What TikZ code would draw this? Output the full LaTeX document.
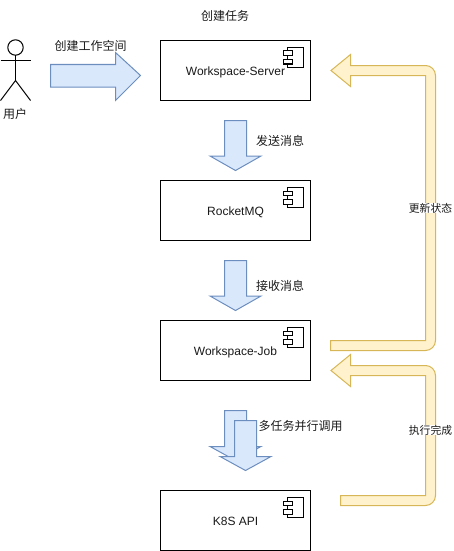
\documentclass[tikz,border=0pt]{standalone}
\usepackage{fontspec}
\setmainfont{Liberation Sans}
\newfontfamily\cjk{Noto Sans CJK SC}
\definecolor{bluefill}{HTML}{DAE8FC}
\definecolor{blueline}{HTML}{6C8EBF}
\definecolor{yelfill}{HTML}{FFF2CC}
\definecolor{yelline}{HTML}{D6B656}
\definecolor{txtc}{HTML}{1A1A1A}
\tikzset{
  txt/.style={inner sep=0pt,anchor=base,font=\fontsize{12}{14}\selectfont\color{txtc}},
  cjktxt/.style={inner sep=0pt,font=\fontsize{12}{14}\cjk\color{txtc}},
  edgetxt/.style={inner sep=0pt,fill=white,font=\fontsize{10.8}{13}\cjk\color{txtc}},
  comp/.style={draw=black,line width=1pt,fill=white,minimum width=150pt,minimum height=60pt,inner sep=0pt,outer sep=0pt,anchor=north west},
  blue/.style={draw=blueline,fill=bluefill,line width=1pt,line join=miter},
  yellow/.style={draw=yelline,fill=yelfill,line width=1pt,line join=miter},
  actorline/.style={draw=black,line width=1pt},
  glyph/.style={draw=black,line width=1pt,fill=white}
}
\begin{document}
\begin{tikzpicture}[x=1pt,y=-1pt]
\useasboundingbox (0,0) rectangle (453,551);
% boxes
\node[comp] (server) at (160.5,40.5) {};
\node[comp] (mq) at (160.5,180.5) {};
\node[comp] (job) at (160.5,320.5) {};
\node[comp] (k8s) at (160.5,490.5) {};
\foreach \n/\ty in {server/40.5,mq/180.5,job/320.5,k8s/490.5}{
  \draw[glyph] (287.5,\ty+7) rectangle (303.5,\ty+27);
  \draw[glyph] (283.5,\ty+10.5) rectangle (292,\ty+15);
  \draw[glyph] (283.5,\ty+19) rectangle (292,\ty+23.5);
}
\node[txt] (t1) at (235.5,75) {Workspace-Server};
\node[txt] (t2) at (235.5,215) {RocketMQ};
\node[txt] (t3) at (235.5,355) {Workspace-Job};
\node[txt] (t4) at (235.5,525) {K8S API};
% actor
\coordinate (hip) at (15.5,80.5);
\draw[actorline] (15.5,47.5) circle (7.7pt);
\draw[actorline] (15.5,55.2) -- (hip);
\draw[actorline] (0.5,60.5) -- (30.5,60.5);
\draw[actorline] (0.5,100.5) -- (hip) -- (30.5,100.5);
\node[cjktxt] (user) at (15,113.5) {用户};
% block arrows
\draw[blue] (50.5,64.5) -- (115.5,64.5) -- (115.5,52.5) -- (140.5,75.5) -- (115.5,100.5) -- (115.5,87) -- (50.5,87) -- cycle;
\draw[blue] (224.5,120.5) -- (246.5,120.5) -- (246.5,156) -- (261,156) -- (235.5,170.5) -- (210,156) -- (224.5,156) -- cycle;
\draw[blue] (224.5,260.5) -- (246.5,260.5) -- (246.5,296) -- (261,296) -- (235.5,310.5) -- (210,296) -- (224.5,296) -- cycle;
\draw[blue] (224.5,410.5) -- (246.5,410.5) -- (246.5,446.5) -- (261,446.5) -- (235.5,460.5) -- (210,446.5) -- (224.5,446.5) -- cycle;
\draw[blue] (234.5,420.5) -- (256.5,420.5) -- (256.5,456.5) -- (271,456.5) -- (245.5,470.5) -- (220,456.5) -- (234.5,456.5) -- cycle;
% feedback arrows
\draw[yellow] (330.5,340.5) -- (425.5,340.5) -- (425.5,75.5) -- (350.5,75.5) -- (350.5,86.5) -- (331,70.5) -- (350.5,54.5) -- (350.5,65.5) -- (425.5,65.5) arc[start angle=-90,end angle=0,radius=10] -- (435.5,340.5) arc[start angle=0,end angle=90,radius=10] -- (330.5,350.5) -- cycle;
\draw[yellow] (340.5,495.5) -- (425.5,495.5) -- (425.5,375.5) -- (350.5,375.5) -- (350.5,386.5) -- (331,370.5) -- (350.5,354.5) -- (350.5,365.5) -- (425.5,365.5) arc[start angle=-90,end angle=0,radius=10] -- (435.5,495.5) arc[start angle=0,end angle=90,radius=10] -- (340.5,505.5) -- cycle;
% labels
\node[cjktxt] (title) at (225,16) {创建任务};
\node[cjktxt] (l1) at (90.5,45.5) {创建工作空间};
\node[cjktxt] (l2) at (280,141) {发送消息};
\node[cjktxt] (l3) at (280,285.5) {接收消息};
\node[cjktxt] (l4) at (300.5,425.5) {多任务并行调用};
\node[edgetxt] (l5) at (430.5,208) {更新状态};
\node[edgetxt] (l6) at (430.5,430) {执行完成};
\end{tikzpicture}
\end{document}
